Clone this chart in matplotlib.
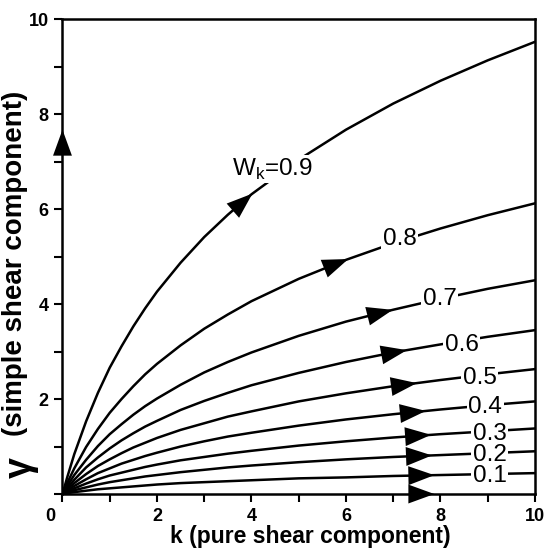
import numpy as np
import matplotlib.pyplot as plt
import matplotlib.transforms as mtransforms

plt.rcParams['font.family'] = ['Liberation Sans', 'DejaVu Sans']

k = [0, 0.1, 0.25, 0.5, 0.75, 1, 1.25, 1.5, 1.75, 2, 2.5, 3, 3.5, 4, 5, 6, 7, 8, 9, 10]

# gamma values for each kinematic vorticity number Wk
g09 = [0, 0.35, 0.84, 1.53, 2.13, 2.66, 3.11, 3.53, 3.91, 4.26, 4.87, 5.41, 5.88, 6.31, 7.04, 7.67, 8.22, 8.70, 9.13, 9.52]
g08 = [0, 0.23, 0.54, 0.99, 1.37, 1.71, 2.00, 2.27, 2.52, 2.74, 3.13, 3.48, 3.78, 4.06, 4.53, 4.93, 5.28, 5.59, 5.87, 6.12]
g07 = [0, 0.17, 0.40, 0.72, 1.01, 1.26, 1.47, 1.67, 1.85, 2.01, 2.30, 2.56, 2.78, 2.98, 3.33, 3.63, 3.88, 4.11, 4.32, 4.50]
g06 = [0, 0.13, 0.30, 0.56, 0.77, 0.96, 1.13, 1.28, 1.42, 1.54, 1.77, 1.96, 2.13, 2.29, 2.55, 2.78, 2.98, 3.15, 3.31, 3.45]
g05 = [0, 0.10, 0.23, 0.42, 0.59, 0.73, 0.86, 0.98, 1.08, 1.18, 1.35, 1.49, 1.63, 1.74, 1.95, 2.12, 2.27, 2.40, 2.52, 2.63]
g04 = [0, 0.07, 0.17, 0.31, 0.44, 0.54, 0.64, 0.72, 0.80, 0.87, 1.00, 1.11, 1.21, 1.29, 1.44, 1.57, 1.68, 1.78, 1.87, 1.95]
g03 = [0, 0.05, 0.12, 0.22, 0.31, 0.39, 0.45, 0.51, 0.57, 0.62, 0.71, 0.78, 0.85, 0.91, 1.02, 1.11, 1.19, 1.26, 1.32, 1.38]
g02 = [0, 0.03, 0.08, 0.14, 0.20, 0.25, 0.29, 0.33, 0.37, 0.40, 0.46, 0.51, 0.56, 0.60, 0.67, 0.73, 0.78, 0.82, 0.86, 0.90]
g01 = [0, 0.02, 0.04, 0.07, 0.10, 0.12, 0.14, 0.16, 0.18, 0.20, 0.23, 0.25, 0.27, 0.29, 0.33, 0.35, 0.38, 0.40, 0.42, 0.44]

curves = [g09, g08, g07, g06, g05, g04, g03, g02, g01]
labels = ['W$_\\mathregular{k}$=0.9', '0.8', '0.7', '0.6', '0.5', '0.4', '0.3', '0.2', '0.1']
label_k = [4.45, 7.13, 7.98, 8.45, 8.83, 8.95, 9.04, 9.04, 9.04]
label_dy = [0.2, 0.05, 0.0, -0.08, -0.05, -0.03, -0.05, -0.03, -0.04]
arrow_k = [3.8, 5.83, 6.77, 7.07, 7.28, 7.47, 7.58, 7.6, 7.65]

fig = plt.figure(figsize=(5.49, 5.51), dpi=100)
ax = fig.add_axes([0.1138, 0.1034, 0.8607, 0.8621])

def arrow(x0, y0, x1, y1):
    ax.annotate('', xy=(x1, y1), xytext=(x0, y0),
                arrowprops=dict(arrowstyle='-|>,head_length=1.1,head_width=0.4',
                                mutation_scale=17, color='black', lw=0,
                                shrinkA=0, shrinkB=0), zorder=4)

for g, lab, lk, dy, ak in zip(curves, labels, label_k, label_dy, arrow_k):
    ax.plot(k, g, color='black', lw=1.8, zorder=2)
    ly = np.interp(lk, k, g) + dy
    ax.text(lk, ly, lab, fontsize=17.5, ha='center', va='center', zorder=3,
            bbox=dict(facecolor='white', edgecolor='none', pad=1.0))
    arrow(ak - 0.4, np.interp(ak - 0.4, k, g), ak + 0.22, np.interp(ak + 0.22, k, g))

# Wk = 0 along the k axis, Wk = 1 along the gamma axis
arrow(7.2, 0, 7.87, 0)
arrow(0, 6.9, 0, 7.67)

ax.set_xlim(0, 10)
ax.set_ylim(0, 10)
ax.set_xticks(range(0, 11))
ax.set_xticklabels(['0', '', '2', '', '4', '', '6', '', '8', '', '10'])
ax.set_yticks(range(0, 11))
ax.set_yticklabels(['', '', '2', '', '4', '', '6', '', '8', '', '10'])
ax.tick_params(direction='out', length=6, width=1.5, labelsize=13, pad=4)
for lbl in ax.get_xticklabels() + ax.get_yticklabels():
    lbl.set_fontweight('bold')
first = ax.get_xticklabels()[0]
first.set_transform(first.get_transform() +
                    mtransforms.ScaledTranslation(-12 / 100, 0, fig.dpi_scale_trans))
for s in ax.spines.values():
    s.set_linewidth(1.8)

ax.text(0.525, -0.09, 'k (pure shear component)', transform=ax.transAxes,
        fontsize=16.5, fontweight='bold', ha='center', va='center')
ax.text(-0.1, 0.485, '(simple shear component)', transform=ax.transAxes,
        fontsize=20, fontweight='bold', ha='center', va='center', rotation=90)
ax.text(-0.088, 0.055, 'γ', transform=ax.transAxes,
        fontsize=27, fontweight='bold', ha='center', va='center', rotation=90)

fig.savefig('out.png', dpi=100)
